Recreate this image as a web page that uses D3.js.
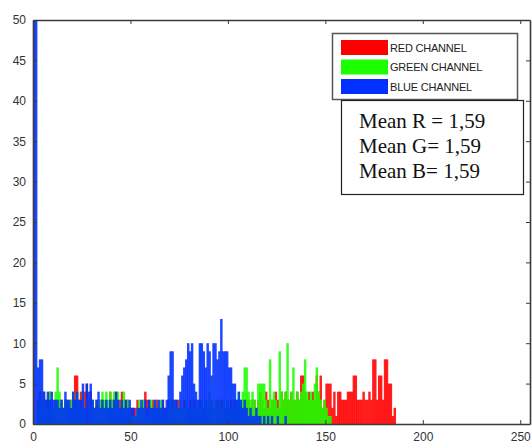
<!DOCTYPE html>
<html>
<head>
<meta charset="utf-8">
<script src="https://cdn.jsdelivr.net/npm/d3@7"></script>
<style>
  body { margin: 0; background: #fff; }
</style>
</head>
<body>
<svg id="chart"></svg>
<script>
// histogram counts per intensity bin (index = bin)
const redCounts = [
  0, 0, 3, 4, 3, 4, 2, 3, 4, 3,
  2, 3, 2, 3, 3, 2, 3, 3, 2, 3,
  3, 6, 6, 3, 4, 3, 4, 5, 3, 4,
  3, 2, 3, 2, 3, 3, 2, 3, 2, 4,
  3, 3, 4, 2, 3, 4, 2, 3, 3, 2,
  2, 2, 2, 3, 2, 2, 3, 4, 3, 3,
  2, 3, 2, 3, 2, 2, 3, 2, 2, 3,
  2, 3, 2, 3, 3, 2, 2, 3, 2, 2,
  3, 2, 3, 2, 2, 3, 2, 2, 3, 2,
  2, 3, 2, 2, 3, 2, 3, 2, 2, 3,
  2, 3, 2, 3, 2, 3, 2, 3, 2, 3,
  3, 2, 3, 3, 2, 3, 4, 3, 2, 4,
  3, 2, 3, 3, 4, 3, 2, 4, 3, 4,
  3, 3, 4, 3, 3, 4, 3, 6, 6, 4,
  3, 4, 3, 4, 3, 6, 4, 6, 2, 3,
  5, 5, 5, 2, 4, 1, 4, 4, 3, 3,
  3, 4, 4, 4, 6, 6, 3, 3, 3, 4,
  3, 3, 4, 3, 8, 8, 3, 6, 6, 3,
  8, 8, 5, 5, 1, 2, 0
];
const greenCounts = [
  0, 0, 2, 3, 3, 4, 3, 2, 4, 3,
  2, 4, 7, 4, 3, 2, 3, 3, 2, 3,
  4, 2, 4, 3, 2, 4, 2, 0, 3, 2,
  3, 2, 3, 2, 3, 4, 3, 4, 3, 4,
  3, 4, 3, 4, 2, 3, 4, 2, 3, 2,
  1, 1, 1, 2, 3, 2, 3, 2, 1, 2,
  3, 2, 3, 2, 2, 3, 2, 1, 2, 2,
  3, 2, 3, 2, 2, 3, 2, 2, 3, 2,
  2, 3, 2, 3, 2, 2, 3, 2, 3, 3,
  4, 3, 2, 3, 2, 3, 2, 3, 2, 3,
  2, 2, 3, 2, 3, 4, 3, 4, 7, 7,
  4, 3, 4, 3, 2, 5, 5, 5, 5, 3,
  2, 8, 3, 4, 3, 2, 9, 4, 3, 4,
  10, 3, 4, 7, 3, 4, 3, 4, 5, 8,
  4, 3, 4, 3, 5, 7, 4, 3, 2, 3,
  2, 1, 1
];
const blueCounts = [
  60, 60, 7, 8, 8, 4, 3, 4, 3, 4,
  3, 3, 3, 2, 3, 2, 4, 3, 3, 2,
  4, 3, 4, 3, 3, 5, 2, 5, 4, 5,
  3, 2, 3, 4, 2, 3, 2, 3, 2, 3,
  2, 3, 4, 3, 2, 3, 2, 3, 2, 3,
  2, 2, 1, 2, 2, 3, 2, 3, 2, 3,
  2, 2, 3, 2, 3, 2, 3, 2, 3, 6,
  9, 9, 3, 3, 2, 4, 6, 7, 8, 10,
  9, 10, 5, 4, 3, 10, 10, 9, 7, 10,
  9, 6, 10, 10, 8, 9, 13, 9, 9, 9,
  7, 7, 5, 5, 3, 4, 3, 2, 3, 2,
  1, 2, 1, 1, 2, 1, 1, 0, 1, 0,
  1, 0, 1, 0, 0, 1, 0, 0, 0, 1
];

const xTicks = [0, 50, 100, 150, 200, 250];
const yTicks = [0, 5, 10, 15, 20, 25, 30, 35, 40, 45, 50];

const channels = [
  { name: 'RED CHANNEL', color: '#ff0000', counts: redCounts },
  { name: 'GREEN CHANNEL', color: '#1cff00', counts: greenCounts },
  { name: 'BLUE CHANNEL', color: '#0030ff', counts: blueCounts }
];
const meanLines = ['Mean R = 1,59', 'Mean G= 1,59', 'Mean B= 1,59'];

const w = 532, h = 448;
const margin = { left: 33, right: 2, top: 20, bottom: 24 };

const xScale = d3.scaleLinear()
  .domain([0, 255])
  .range([margin.left, w - margin.right]);

const yScale = d3.scaleLinear()
  .domain([0, 50])
  .range([h - margin.bottom, margin.top]);

const chart = d3.select('#chart')
  .attr('width', w)
  .attr('height', h);

chart.append('clipPath')
  .attr('id', 'plotclip')
  .append('rect')
  .attr('x', margin.left)
  .attr('y', margin.top)
  .attr('width', w - margin.right - margin.left)
  .attr('height', h - margin.bottom - margin.top);

const bars = chart.append('g').attr('clip-path', 'url(#plotclip)');

channels.forEach(ch => {
  bars.append('g')
    .selectAll('rect')
    .data(ch.counts.map((v, i) => ({ bin: i, v: v })).filter(d => d.v > 0))
    .join('rect')
    .attr('x', d => xScale(d.bin))
    .attr('width', d => xScale(d.bin + 1) - xScale(d.bin) + 0.5)
    .attr('y', d => yScale(d.v))
    .attr('height', d => yScale(0) - yScale(d.v))
    .attr('fill', ch.color)
    .attr('fill-opacity', 0.88);
});

// axes, MATLAB-style inward ticks and a box
const axisColor = '#3a3a3a';

chart.append('g')
  .attr('transform', `translate(0,${yScale(0)})`)
  .call(d3.axisBottom(xScale).tickValues(xTicks).tickSizeInner(-4).tickSizeOuter(0).tickPadding(8));

chart.append('g')
  .attr('transform', `translate(${margin.left},0)`)
  .call(d3.axisLeft(yScale).tickValues(yTicks).tickSizeInner(-4).tickSizeOuter(0).tickPadding(7));

chart.append('g')
  .attr('transform', `translate(0,${margin.top})`)
  .call(d3.axisTop(xScale).tickValues(xTicks).tickSizeInner(-4).tickSizeOuter(0).tickFormat(''));

chart.append('g')
  .attr('transform', `translate(${w - margin.right},0)`)
  .call(d3.axisRight(yScale).tickValues(yTicks).tickSizeInner(-4).tickSizeOuter(0).tickFormat(''));

chart.selectAll('.domain').attr('stroke', axisColor).attr('stroke-width', 1.6);
chart.selectAll('.tick line').attr('stroke', axisColor);
chart.selectAll('.tick text')
  .attr('font-family', '"Liberation Sans", Arial, sans-serif')
  .attr('font-size', 12)
  .attr('fill', '#333');

// legend
const legend = chart.append('g');
legend.append('rect')
  .attr('x', 332.5).attr('y', 33.5)
  .attr('width', 185).attr('height', 66)
  .attr('fill', '#fff')
  .attr('stroke', '#555')
  .attr('stroke-width', 1.5);

channels.forEach((ch, i) => {
  legend.append('rect')
    .attr('x', 341).attr('y', 40 + i * 19.5)
    .attr('width', 47).attr('height', 15)
    .attr('fill', ch.color);
  legend.append('text')
    .attr('x', 390).attr('y', 51.5 + i * 19.5)
    .attr('font-family', '"Liberation Sans", Arial, sans-serif')
    .attr('font-size', 11)
    .attr('letter-spacing', -0.2)
    .attr('fill', '#222')
    .text(ch.name);
});

// mean box
const meanBox = chart.append('g');
meanBox.append('rect')
  .attr('x', 341.5).attr('y', 100.5)
  .attr('width', 182).attr('height', 94)
  .attr('fill', '#fff')
  .attr('stroke', '#222')
  .attr('stroke-width', 1.2);

meanBox.selectAll('text')
  .data(meanLines)
  .join('text')
  .attr('x', 359)
  .attr('y', (d, i) => 128 + i * 25)
  .attr('font-family', '"Liberation Serif", "Times New Roman", serif')
  .attr('font-size', 21)
  .attr('fill', '#111')
  .text(d => d);
</script>
</body>
</html>
